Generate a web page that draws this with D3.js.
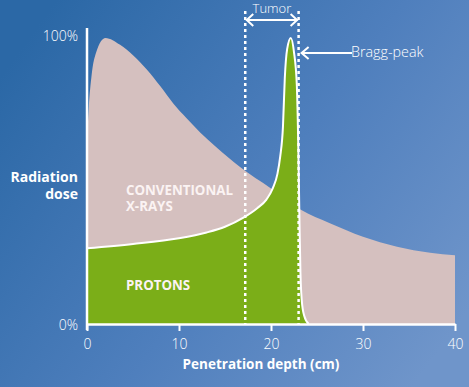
<!DOCTYPE html>
<html>
<head>
<meta charset="utf-8">
<script src="https://cdn.jsdelivr.net/npm/d3@7"></script>
<style>
  body { margin: 0; }
  svg { display: block; font-family: "Open Sans", sans-serif; }
</style>
</head>
<body>
<div id="chart"></div>
<script>
// depth (cm) / relative dose (%)
const xrayDepth = [0, 0.2, 0.5, 1, 2, 3.6, 5, 6.5, 8, 9.4, 10.8, 12.3, 14, 16.6, 20, 23.2, 26.4, 30, 33.7, 37.3, 40];
const xrayDose  = [64, 76, 87, 95, 100, 97.6, 94, 89, 83, 77, 72, 67, 62, 55, 47.4, 40, 35.2, 30.5, 27, 24.9, 24];

const protonDepth = [0, 5, 10, 13, 15, 17, 18.5, 19.5, 20.2, 20.7, 21, 21.3, 21.5, 21.75, 22.15, 22.5, 22.8, 22.95, 23.1, 23.2, 23.35, 23.6, 24.1];
const protonDose  = [26.5, 28, 30, 32, 34, 37.2, 40.5, 43.5, 47.5, 52.5, 58.5, 69, 86, 96, 100, 95, 84, 65, 35, 18, 8, 3, 0];

const xTicks = [0, 10, 20, 30, 40];
const yTicks = [0, 100];
const tumorRange = [17.2, 23.0];

const W = 469, H = 387;
const margin = {top: 38, right: 14, bottom: 63, left: 87};

const xray = xrayDepth.map((d, i) => ({depth: d, dose: xrayDose[i]}));
const proton = protonDepth.map((d, i) => ({depth: d, dose: protonDose[i]}));

const svg = d3.select("#chart")
  .append("svg")
    .attr("width", W)
    .attr("height", H);

// background gradient
const defs = svg.append("defs");
const grad = defs.append("linearGradient")
  .attr("id", "bg")
  .attr("x1", "0").attr("y1", "0.2")
  .attr("x2", "1").attr("y2", "0.8");
grad.append("stop").attr("offset", "0").attr("stop-color", "#2b68a6");
grad.append("stop").attr("offset", "0.55").attr("stop-color", "#4f7fbd");
grad.append("stop").attr("offset", "1").attr("stop-color", "#6f95ca");
svg.append("rect").attr("width", W).attr("height", H).attr("fill", "url(#bg)");

const x = d3.scaleLinear()
  .domain([0, 40])
  .range([margin.left, W - margin.right]);

const y = d3.scaleLinear()
  .domain([0, 100])
  .range([H - margin.bottom, margin.top]);

// conventional x-rays
const area = d3.area()
  .curve(d3.curveMonotoneX)
  .x(d => x(d.depth))
  .y0(y(0))
  .y1(d => y(d.dose));

svg.append("path")
  .datum(xray)
  .attr("d", area)
  .attr("fill", "#d5c0bf");

// protons
svg.append("path")
  .datum(proton)
  .attr("d", area)
  .attr("fill", "#7bae18");

svg.append("path")
  .datum(proton)
  .attr("d", d3.line().curve(d3.curveMonotoneX).x(d => x(d.depth)).y(d => y(d.dose)))
  .attr("fill", "none")
  .attr("stroke", "#fff")
  .attr("stroke-width", 2);

// tumor boundaries
svg.selectAll(".tumor")
  .data(tumorRange)
  .enter()
  .append("line")
    .attr("class", "tumor")
    .attr("x1", d => x(d)).attr("x2", d => x(d))
    .attr("y1", 11).attr("y2", y(0))
    .attr("stroke", "#fff")
    .attr("stroke-width", 2.5)
    .attr("stroke-dasharray", "3,3");

// axes
const xAxis = svg.append("g")
  .attr("transform", `translate(0, ${y(0)})`)
  .call(d3.axisBottom(x).tickValues(xTicks).tickSize(7).tickSizeOuter(0).tickPadding(8));
xAxis.select(".domain").attr("stroke", "#fff").attr("stroke-width", 2.5);
xAxis.selectAll(".tick line").attr("stroke", "#fff").attr("stroke-width", 2);
xAxis.selectAll(".tick text")
  .attr("fill", "#fff")
  .style("font-size", "14px")
  .style("font-family", "'Open Sans', sans-serif")
  .style("font-weight", 300);

svg.append("line")
  .attr("x1", x(0)).attr("x2", x(0))
  .attr("y1", y(0) + 6).attr("y2", y(103.5))
  .attr("stroke", "#fff")
  .attr("stroke-width", 2.5);

svg.selectAll(".ylab")
  .data(yTicks)
  .enter()
  .append("text")
    .attr("class", "ylab")
    .attr("x", x(0) - 9)
    .attr("y", d => y(d) + (d === 0 ? 2 : -1))
    .attr("text-anchor", "end")
    .attr("dominant-baseline", "middle")
    .attr("fill", "#fff")
    .style("font-size", "14px")
    .style("font-weight", 300)
    .text(d => d + "%");

// axis titles
svg.append("text")
  .attr("x", 261)
  .attr("y", 369)
  .attr("text-anchor", "middle")
  .attr("fill", "#fff")
  .style("font-size", "13.5px")
  .style("font-weight", 700)
  .text("Penetration depth (cm)");

svg.append("text")
  .attr("text-anchor", "end")
  .attr("fill", "#fff")
  .style("font-size", "14px")
  .style("font-weight", 700)
  .selectAll("tspan")
  .data(["Radiation", "dose"])
  .enter()
  .append("tspan")
    .attr("x", 78)
    .attr("y", (d, i) => 182 + i * 17)
    .text(d => d);

// series labels
svg.append("text")
  .attr("fill", "#fbf3f3")
  .style("font-size", "13.3px")
  .style("font-weight", 700)
  .selectAll("tspan")
  .data(["CONVENTIONAL", "X-RAYS"])
  .enter()
  .append("tspan")
    .attr("x", 126)
    .attr("y", (d, i) => 195 + i * 16)
    .text(d => d);

svg.append("text")
  .attr("x", 126)
  .attr("y", 290)
  .attr("fill", "#fbf3f3")
  .style("font-size", "13.3px")
  .style("font-weight", 700)
  .text("PROTONS");

// tumor arrow
const ay = 20;
svg.append("line")
  .attr("x1", x(tumorRange[0]) + 1).attr("x2", x(tumorRange[1]) - 1)
  .attr("y1", ay).attr("y2", ay)
  .attr("stroke", "#fff").attr("stroke-width", 2);
svg.append("path")
  .attr("d", `M${x(tumorRange[0]) + 8},${ay - 6} L${x(tumorRange[0]) + 1.5},${ay} L${x(tumorRange[0]) + 8},${ay + 6}` +
             `M${x(tumorRange[1]) - 8},${ay - 6} L${x(tumorRange[1]) - 1.5},${ay} L${x(tumorRange[1]) - 8},${ay + 6}`)
  .attr("fill", "none").attr("stroke", "#fff").attr("stroke-width", 2);
svg.append("text")
  .attr("x", (x(tumorRange[0]) + x(tumorRange[1])) / 2)
  .attr("y", 13)
  .attr("text-anchor", "middle")
  .attr("fill", "#fff")
  .style("font-size", "13px")
  .style("font-weight", 300)
  .text("Tumor");

// Bragg-peak arrow
const by = 53;
const bx = x(tumorRange[1]) + 3;
svg.append("line")
  .attr("x1", bx).attr("x2", 352)
  .attr("y1", by).attr("y2", by)
  .attr("stroke", "#fff").attr("stroke-width", 2);
svg.append("path")
  .attr("d", `M${bx + 7},${by - 6} L${bx},${by} L${bx + 7},${by + 6}`)
  .attr("fill", "none").attr("stroke", "#fff").attr("stroke-width", 2);
svg.append("text")
  .attr("x", 351)
  .attr("y", by)
  .attr("dominant-baseline", "middle")
  .attr("fill", "#fff")
  .style("font-size", "14.3px")
  .style("font-weight", 300)
  .text("Bragg-peak");
</script>
</body>
</html>
